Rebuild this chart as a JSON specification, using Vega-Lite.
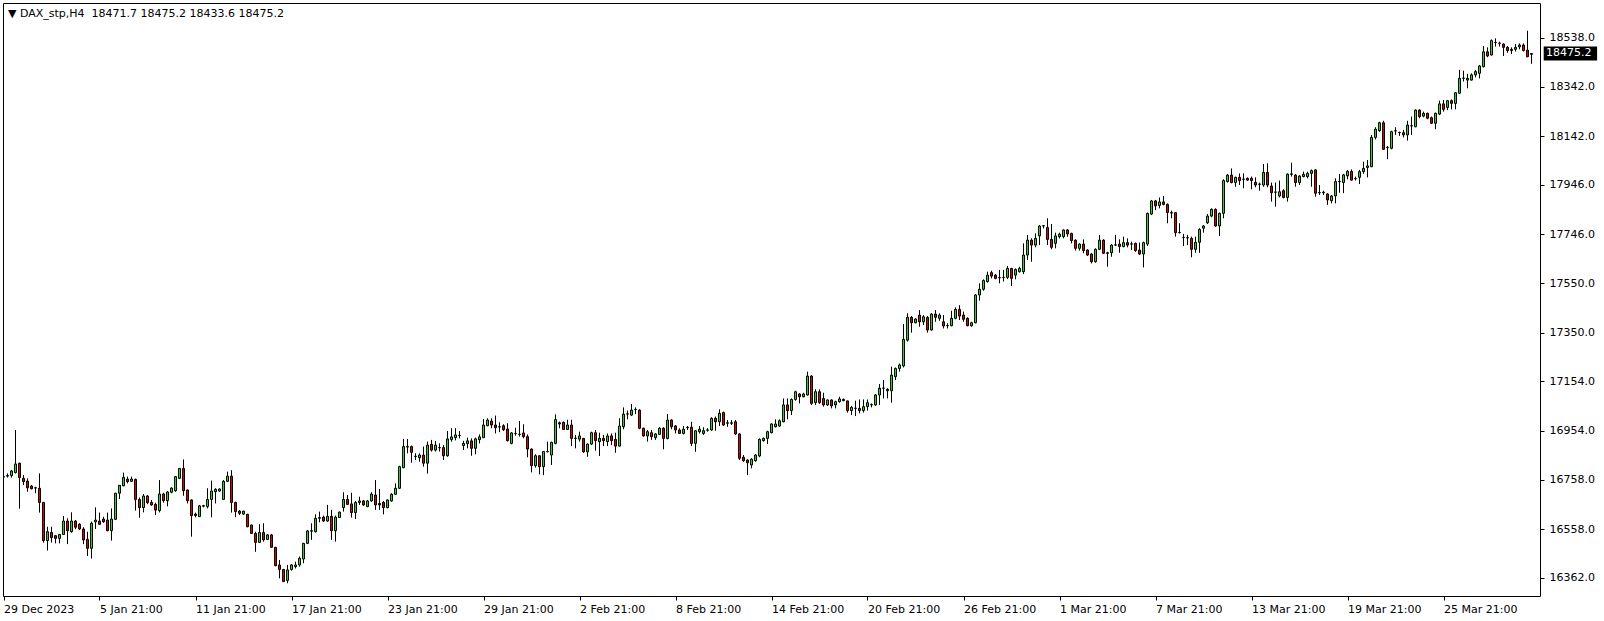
{
"$schema": "https://vega.github.io/schema/vega-lite/v6.json",
"width": 1537, "height": 593,
"autosize": {"type": "none"},
"padding": {"left": 3, "top": 3, "right": 64, "bottom": 25},
"background": "white",
"config": {"view": {"stroke": "black", "strokeWidth": 1}, "font": "DejaVu Sans"},
"title": {"text": "▼ DAX_stp,H4\u00a0\u00a018471.7 18475.2 18433.6 18475.2", "anchor": "start", "frame": "group", "offset": -16, "dy": 9, "fontSize": 11, "fontWeight": "normal", "color": "black", "dx": 5, "baseline": "alphabetic"},
"datasets": {
"bars": [
{"i":0,"o":16768,"h":16783,"l":16756,"c":16770},
{"i":1,"o":16772,"h":16783,"l":16766,"c":16774},
{"i":2,"o":16774,"h":16797,"l":16766,"c":16793},
{"i":3,"o":16786,"h":16958,"l":16783,"c":16821},
{"i":4,"o":16824,"h":16826,"l":16641,"c":16766},
{"i":5,"o":16763,"h":16776,"l":16736,"c":16750},
{"i":6,"o":16752,"h":16763,"l":16709,"c":16725},
{"i":7,"o":16732,"h":16736,"l":16719,"c":16721},
{"i":8,"o":16724,"h":16729,"l":16703,"c":16725},
{"i":9,"o":16723,"h":16783,"l":16625,"c":16666},
{"i":10,"o":16666,"h":16668,"l":16504,"c":16512},
{"i":11,"o":16512,"h":16568,"l":16472,"c":16548},
{"i":12,"o":16545,"h":16568,"l":16504,"c":16524},
{"i":13,"o":16532,"h":16535,"l":16501,"c":16521},
{"i":14,"o":16521,"h":16539,"l":16501,"c":16537},
{"i":15,"o":16537,"h":16611,"l":16535,"c":16591},
{"i":16,"o":16591,"h":16602,"l":16498,"c":16552},
{"i":17,"o":16548,"h":16626,"l":16544,"c":16591},
{"i":18,"o":16591,"h":16595,"l":16558,"c":16566},
{"i":19,"o":16578,"h":16582,"l":16555,"c":16559},
{"i":20,"o":16559,"h":16566,"l":16498,"c":16515},
{"i":21,"o":16517,"h":16548,"l":16450,"c":16481},
{"i":22,"o":16481,"h":16589,"l":16440,"c":16582},
{"i":23,"o":16588,"h":16646,"l":16559,"c":16595},
{"i":24,"o":16591,"h":16625,"l":16575,"c":16578},
{"i":25,"o":16599,"h":16608,"l":16584,"c":16588},
{"i":26,"o":16595,"h":16625,"l":16550,"c":16552},
{"i":27,"o":16552,"h":16642,"l":16512,"c":16599},
{"i":28,"o":16598,"h":16705,"l":16595,"c":16703},
{"i":29,"o":16703,"h":16736,"l":16680,"c":16735},
{"i":30,"o":16733,"h":16786,"l":16731,"c":16767},
{"i":31,"o":16760,"h":16770,"l":16743,"c":16750},
{"i":32,"o":16751,"h":16770,"l":16748,"c":16760},
{"i":33,"o":16759,"h":16762,"l":16633,"c":16678},
{"i":34,"o":16678,"h":16686,"l":16604,"c":16645},
{"i":35,"o":16645,"h":16700,"l":16626,"c":16692},
{"i":36,"o":16692,"h":16695,"l":16659,"c":16665},
{"i":37,"o":16666,"h":16676,"l":16653,"c":16656},
{"i":38,"o":16658,"h":16665,"l":16615,"c":16635},
{"i":39,"o":16633,"h":16756,"l":16626,"c":16700},
{"i":40,"o":16700,"h":16705,"l":16665,"c":16673},
{"i":41,"o":16673,"h":16712,"l":16650,"c":16708},
{"i":42,"o":16707,"h":16727,"l":16703,"c":16724},
{"i":43,"o":16713,"h":16772,"l":16709,"c":16770},
{"i":44,"o":16763,"h":16805,"l":16760,"c":16803},
{"i":45,"o":16803,"h":16839,"l":16693,"c":16713},
{"i":46,"o":16716,"h":16718,"l":16662,"c":16673},
{"i":47,"o":16676,"h":16678,"l":16528,"c":16613},
{"i":48,"o":16619,"h":16625,"l":16606,"c":16613},
{"i":49,"o":16609,"h":16656,"l":16607,"c":16652},
{"i":50,"o":16651,"h":16656,"l":16646,"c":16653},
{"i":51,"o":16649,"h":16723,"l":16642,"c":16678},
{"i":52,"o":16678,"h":16754,"l":16606,"c":16712},
{"i":53,"o":16709,"h":16723,"l":16662,"c":16719},
{"i":54,"o":16712,"h":16723,"l":16709,"c":16720},
{"i":55,"o":16678,"h":16756,"l":16676,"c":16751},
{"i":56,"o":16751,"h":16790,"l":16748,"c":16772},
{"i":57,"o":16772,"h":16796,"l":16625,"c":16666},
{"i":58,"o":16666,"h":16669,"l":16606,"c":16629},
{"i":59,"o":16631,"h":16635,"l":16615,"c":16622},
{"i":60,"o":16619,"h":16632,"l":16617,"c":16631},
{"i":61,"o":16618,"h":16620,"l":16566,"c":16568},
{"i":62,"o":16575,"h":16577,"l":16539,"c":16541},
{"i":63,"o":16541,"h":16548,"l":16467,"c":16505},
{"i":64,"o":16505,"h":16578,"l":16503,"c":16545},
{"i":65,"o":16545,"h":16582,"l":16508,"c":16515},
{"i":66,"o":16517,"h":16539,"l":16514,"c":16535},
{"i":67,"o":16535,"h":16539,"l":16483,"c":16485},
{"i":68,"o":16485,"h":16487,"l":16409,"c":16411},
{"i":69,"o":16414,"h":16434,"l":16360,"c":16396},
{"i":70,"o":16396,"h":16398,"l":16345,"c":16347},
{"i":71,"o":16351,"h":16414,"l":16340,"c":16394},
{"i":72,"o":16396,"h":16418,"l":16391,"c":16414},
{"i":73,"o":16407,"h":16427,"l":16400,"c":16414},
{"i":74,"o":16414,"h":16448,"l":16407,"c":16441},
{"i":75,"o":16438,"h":16503,"l":16421,"c":16501},
{"i":76,"o":16501,"h":16555,"l":16498,"c":16551},
{"i":77,"o":16550,"h":16582,"l":16515,"c":16552},
{"i":78,"o":16548,"h":16618,"l":16545,"c":16602},
{"i":79,"o":16602,"h":16629,"l":16586,"c":16605},
{"i":80,"o":16607,"h":16613,"l":16588,"c":16591},
{"i":81,"o":16591,"h":16656,"l":16588,"c":16610},
{"i":82,"o":16610,"h":16636,"l":16515,"c":16552},
{"i":83,"o":16552,"h":16613,"l":16508,"c":16607},
{"i":84,"o":16605,"h":16629,"l":16603,"c":16627},
{"i":85,"o":16645,"h":16707,"l":16629,"c":16678},
{"i":86,"o":16678,"h":16696,"l":16656,"c":16658},
{"i":87,"o":16660,"h":16705,"l":16605,"c":16625},
{"i":88,"o":16625,"h":16672,"l":16599,"c":16666},
{"i":89,"o":16666,"h":16689,"l":16656,"c":16672},
{"i":90,"o":16672,"h":16676,"l":16652,"c":16656},
{"i":91,"o":16649,"h":16676,"l":16647,"c":16672},
{"i":92,"o":16672,"h":16707,"l":16669,"c":16700},
{"i":93,"o":16696,"h":16756,"l":16636,"c":16656},
{"i":94,"o":16662,"h":16720,"l":16636,"c":16656},
{"i":95,"o":16666,"h":16672,"l":16618,"c":16645},
{"i":96,"o":16645,"h":16678,"l":16642,"c":16676},
{"i":97,"o":16672,"h":16703,"l":16669,"c":16699},
{"i":98,"o":16699,"h":16743,"l":16696,"c":16723},
{"i":99,"o":16723,"h":16814,"l":16720,"c":16810},
{"i":100,"o":16806,"h":16922,"l":16804,"c":16891},
{"i":101,"o":16891,"h":16922,"l":16864,"c":16889},
{"i":102,"o":16891,"h":16895,"l":16826,"c":16868},
{"i":103,"o":16852,"h":16864,"l":16837,"c":16851},
{"i":104,"o":16846,"h":16864,"l":16830,"c":16857},
{"i":105,"o":16857,"h":16891,"l":16810,"c":16824},
{"i":106,"o":16824,"h":16911,"l":16782,"c":16897},
{"i":107,"o":16900,"h":16918,"l":16871,"c":16877},
{"i":108,"o":16877,"h":16914,"l":16871,"c":16897},
{"i":109,"o":16886,"h":16904,"l":16871,"c":16887},
{"i":110,"o":16887,"h":16897,"l":16837,"c":16854},
{"i":111,"o":16854,"h":16954,"l":16850,"c":16922},
{"i":112,"o":16919,"h":16965,"l":16911,"c":16930},
{"i":113,"o":16927,"h":16965,"l":16916,"c":16938},
{"i":114,"o":16936,"h":16954,"l":16924,"c":16935},
{"i":115,"o":16895,"h":16914,"l":16877,"c":16904},
{"i":116,"o":16903,"h":16927,"l":16884,"c":16914},
{"i":117,"o":16914,"h":16924,"l":16854,"c":16884},
{"i":118,"o":16884,"h":16927,"l":16860,"c":16922},
{"i":119,"o":16919,"h":16940,"l":16904,"c":16930},
{"i":120,"o":16927,"h":17002,"l":16925,"c":16978},
{"i":121,"o":16975,"h":17005,"l":16973,"c":16998},
{"i":122,"o":16994,"h":17005,"l":16965,"c":16978},
{"i":123,"o":16978,"h":17016,"l":16944,"c":16967},
{"i":124,"o":16970,"h":16989,"l":16949,"c":16971},
{"i":125,"o":16975,"h":16981,"l":16954,"c":16959},
{"i":126,"o":16962,"h":16985,"l":16911,"c":16915},
{"i":127,"o":16904,"h":16949,"l":16900,"c":16946},
{"i":128,"o":16944,"h":16967,"l":16935,"c":16943},
{"i":129,"o":16941,"h":16994,"l":16931,"c":16940},
{"i":130,"o":16946,"h":16981,"l":16924,"c":16931},
{"i":131,"o":16931,"h":16940,"l":16848,"c":16881},
{"i":132,"o":16881,"h":16884,"l":16787,"c":16814},
{"i":133,"o":16814,"h":16860,"l":16806,"c":16854},
{"i":134,"o":16854,"h":16857,"l":16779,"c":16810},
{"i":135,"o":16810,"h":16873,"l":16776,"c":16871},
{"i":136,"o":16871,"h":16911,"l":16868,"c":16870},
{"i":137,"o":16857,"h":16911,"l":16817,"c":16908},
{"i":138,"o":16904,"h":17021,"l":16900,"c":17000},
{"i":139,"o":16987,"h":16992,"l":16965,"c":16982},
{"i":140,"o":16989,"h":16992,"l":16958,"c":16960},
{"i":141,"o":16960,"h":16999,"l":16958,"c":16978},
{"i":142,"o":16978,"h":16999,"l":16893,"c":16924},
{"i":143,"o":16924,"h":16938,"l":16884,"c":16925},
{"i":144,"o":16921,"h":16951,"l":16911,"c":16934},
{"i":145,"o":16924,"h":16926,"l":16866,"c":16870},
{"i":146,"o":16870,"h":16904,"l":16850,"c":16901},
{"i":147,"o":16901,"h":16951,"l":16897,"c":16947},
{"i":148,"o":16947,"h":16958,"l":16874,"c":16915},
{"i":149,"o":16911,"h":16947,"l":16853,"c":16924},
{"i":150,"o":16924,"h":16938,"l":16893,"c":16915},
{"i":151,"o":16911,"h":16944,"l":16893,"c":16934},
{"i":152,"o":16934,"h":16944,"l":16897,"c":16915},
{"i":153,"o":16920,"h":16947,"l":16866,"c":16893},
{"i":154,"o":16893,"h":17005,"l":16891,"c":16974},
{"i":155,"o":16971,"h":17049,"l":16961,"c":17022},
{"i":156,"o":17022,"h":17036,"l":17001,"c":17023},
{"i":157,"o":17018,"h":17063,"l":17014,"c":17038},
{"i":158,"o":17040,"h":17049,"l":17022,"c":17041},
{"i":159,"o":17038,"h":17041,"l":16961,"c":16965},
{"i":160,"o":16965,"h":16967,"l":16931,"c":16934},
{"i":161,"o":16934,"h":16958,"l":16911,"c":16951},
{"i":162,"o":16947,"h":16958,"l":16918,"c":16931},
{"i":163,"o":16927,"h":16944,"l":16918,"c":16942},
{"i":164,"o":16940,"h":16969,"l":16938,"c":16965},
{"i":165,"o":16965,"h":16969,"l":16880,"c":16924},
{"i":166,"o":16924,"h":17022,"l":16920,"c":16998},
{"i":167,"o":16998,"h":17001,"l":16961,"c":16971},
{"i":168,"o":16974,"h":16978,"l":16944,"c":16958},
{"i":169,"o":16958,"h":16965,"l":16942,"c":16944},
{"i":170,"o":16944,"h":16974,"l":16940,"c":16961},
{"i":171,"o":16967,"h":16974,"l":16958,"c":16969},
{"i":172,"o":16969,"h":16991,"l":16893,"c":16904},
{"i":173,"o":16904,"h":16958,"l":16870,"c":16955},
{"i":174,"o":16951,"h":16974,"l":16944,"c":16961},
{"i":175,"o":16944,"h":16969,"l":16938,"c":16955},
{"i":176,"o":16957,"h":16965,"l":16951,"c":16958},
{"i":177,"o":16958,"h":17009,"l":16955,"c":17005},
{"i":178,"o":17005,"h":17012,"l":16955,"c":16991},
{"i":179,"o":16991,"h":17041,"l":16974,"c":17025},
{"i":180,"o":17028,"h":17032,"l":16974,"c":16978},
{"i":181,"o":16985,"h":16998,"l":16971,"c":16987},
{"i":182,"o":16985,"h":16998,"l":16978,"c":16987},
{"i":183,"o":16991,"h":16998,"l":16938,"c":16942},
{"i":184,"o":16942,"h":16944,"l":16837,"c":16844},
{"i":185,"o":16848,"h":16857,"l":16830,"c":16834},
{"i":186,"o":16837,"h":16840,"l":16776,"c":16826},
{"i":187,"o":16817,"h":16844,"l":16803,"c":16840},
{"i":188,"o":16834,"h":16861,"l":16830,"c":16857},
{"i":189,"o":16853,"h":16924,"l":16848,"c":16920},
{"i":190,"o":16915,"h":16928,"l":16911,"c":16924},
{"i":191,"o":16924,"h":16955,"l":16901,"c":16951},
{"i":192,"o":16947,"h":16985,"l":16944,"c":16982},
{"i":193,"o":16971,"h":17001,"l":16968,"c":16982},
{"i":194,"o":16974,"h":17001,"l":16971,"c":16995},
{"i":195,"o":16991,"h":17085,"l":16989,"c":17059},
{"i":196,"o":17059,"h":17085,"l":17001,"c":17036},
{"i":197,"o":17036,"h":17085,"l":17018,"c":17081},
{"i":198,"o":17081,"h":17116,"l":17076,"c":17112},
{"i":199,"o":17103,"h":17106,"l":17065,"c":17092},
{"i":200,"o":17092,"h":17108,"l":17089,"c":17103},
{"i":201,"o":17099,"h":17193,"l":17097,"c":17175},
{"i":202,"o":17175,"h":17179,"l":17059,"c":17065},
{"i":203,"o":17068,"h":17122,"l":17059,"c":17112},
{"i":204,"o":17112,"h":17122,"l":17063,"c":17068},
{"i":205,"o":17085,"h":17108,"l":17052,"c":17059},
{"i":206,"o":17059,"h":17081,"l":17055,"c":17079},
{"i":207,"o":17079,"h":17081,"l":17045,"c":17055},
{"i":208,"o":17059,"h":17076,"l":17045,"c":17072},
{"i":209,"o":17072,"h":17092,"l":17068,"c":17083},
{"i":210,"o":17081,"h":17085,"l":17074,"c":17076},
{"i":211,"o":17075,"h":17076,"l":17028,"c":17036},
{"i":212,"o":17036,"h":17055,"l":17018,"c":17049},
{"i":213,"o":17045,"h":17076,"l":17014,"c":17046},
{"i":214,"o":17045,"h":17081,"l":17025,"c":17036},
{"i":215,"o":17036,"h":17081,"l":17028,"c":17052},
{"i":216,"o":17052,"h":17081,"l":17036,"c":17068},
{"i":217,"o":17059,"h":17065,"l":17049,"c":17060},
{"i":218,"o":17059,"h":17103,"l":17055,"c":17099},
{"i":219,"o":17099,"h":17143,"l":17059,"c":17126},
{"i":220,"o":17126,"h":17159,"l":17085,"c":17127},
{"i":221,"o":17122,"h":17126,"l":17085,"c":17116},
{"i":222,"o":17116,"h":17213,"l":17068,"c":17179},
{"i":223,"o":17173,"h":17210,"l":17159,"c":17206},
{"i":224,"o":17206,"h":17226,"l":17193,"c":17220},
{"i":225,"o":17216,"h":17385,"l":17210,"c":17323},
{"i":226,"o":17320,"h":17428,"l":17314,"c":17412},
{"i":227,"o":17412,"h":17417,"l":17350,"c":17390},
{"i":228,"o":17390,"h":17408,"l":17388,"c":17405},
{"i":229,"o":17421,"h":17441,"l":17374,"c":17394},
{"i":230,"o":17394,"h":17421,"l":17381,"c":17414},
{"i":231,"o":17412,"h":17417,"l":17350,"c":17361},
{"i":232,"o":17361,"h":17428,"l":17358,"c":17425},
{"i":233,"o":17425,"h":17441,"l":17394,"c":17412},
{"i":234,"o":17408,"h":17428,"l":17398,"c":17421},
{"i":235,"o":17394,"h":17421,"l":17367,"c":17377},
{"i":236,"o":17378,"h":17388,"l":17367,"c":17379},
{"i":237,"o":17378,"h":17438,"l":17376,"c":17408},
{"i":238,"o":17408,"h":17452,"l":17404,"c":17444},
{"i":239,"o":17444,"h":17461,"l":17401,"c":17417},
{"i":240,"o":17421,"h":17435,"l":17394,"c":17404},
{"i":241,"o":17408,"h":17412,"l":17376,"c":17378},
{"i":242,"o":17378,"h":17394,"l":17374,"c":17390},
{"i":243,"o":17390,"h":17506,"l":17388,"c":17502},
{"i":244,"o":17502,"h":17549,"l":17479,"c":17525},
{"i":245,"o":17525,"h":17565,"l":17519,"c":17560},
{"i":246,"o":17556,"h":17596,"l":17552,"c":17582},
{"i":247,"o":17592,"h":17600,"l":17569,"c":17578},
{"i":248,"o":17582,"h":17586,"l":17565,"c":17569},
{"i":249,"o":17572,"h":17603,"l":17549,"c":17571},
{"i":250,"o":17572,"h":17603,"l":17556,"c":17573},
{"i":251,"o":17573,"h":17619,"l":17566,"c":17609},
{"i":252,"o":17609,"h":17611,"l":17538,"c":17569},
{"i":253,"o":17582,"h":17609,"l":17565,"c":17605},
{"i":254,"o":17596,"h":17616,"l":17592,"c":17609},
{"i":255,"o":17596,"h":17710,"l":17586,"c":17663},
{"i":256,"o":17663,"h":17744,"l":17643,"c":17723},
{"i":257,"o":17723,"h":17730,"l":17636,"c":17703},
{"i":258,"o":17703,"h":17750,"l":17694,"c":17730},
{"i":259,"o":17740,"h":17784,"l":17703,"c":17780},
{"i":260,"o":17780,"h":17784,"l":17770,"c":17781},
{"i":261,"o":17774,"h":17811,"l":17703,"c":17726},
{"i":262,"o":17726,"h":17788,"l":17686,"c":17694},
{"i":263,"o":17710,"h":17753,"l":17690,"c":17740},
{"i":264,"o":17737,"h":17753,"l":17730,"c":17747},
{"i":265,"o":17737,"h":17766,"l":17730,"c":17764},
{"i":266,"o":17764,"h":17767,"l":17737,"c":17748},
{"i":267,"o":17750,"h":17753,"l":17710,"c":17721},
{"i":268,"o":17723,"h":17726,"l":17681,"c":17690},
{"i":269,"o":17690,"h":17710,"l":17681,"c":17707},
{"i":270,"o":17707,"h":17726,"l":17670,"c":17681},
{"i":271,"o":17683,"h":17686,"l":17659,"c":17663},
{"i":272,"o":17667,"h":17670,"l":17629,"c":17636},
{"i":273,"o":17636,"h":17690,"l":17632,"c":17686},
{"i":274,"o":17686,"h":17744,"l":17683,"c":17723},
{"i":275,"o":17723,"h":17726,"l":17667,"c":17670},
{"i":276,"o":17672,"h":17676,"l":17616,"c":17670},
{"i":277,"o":17672,"h":17707,"l":17656,"c":17703},
{"i":278,"o":17703,"h":17744,"l":17699,"c":17704},
{"i":279,"o":17707,"h":17726,"l":17672,"c":17697},
{"i":280,"o":17697,"h":17737,"l":17694,"c":17713},
{"i":281,"o":17713,"h":17730,"l":17694,"c":17703},
{"i":282,"o":17707,"h":17717,"l":17683,"c":17708},
{"i":283,"o":17710,"h":17713,"l":17676,"c":17681},
{"i":284,"o":17683,"h":17713,"l":17663,"c":17667},
{"i":285,"o":17667,"h":17717,"l":17613,"c":17713},
{"i":286,"o":17707,"h":17834,"l":17699,"c":17831},
{"i":287,"o":17828,"h":17885,"l":17824,"c":17881},
{"i":288,"o":17881,"h":17885,"l":17844,"c":17861},
{"i":289,"o":17863,"h":17895,"l":17851,"c":17877},
{"i":290,"o":17877,"h":17901,"l":17863,"c":17867},
{"i":291,"o":17867,"h":17871,"l":17791,"c":17834},
{"i":292,"o":17834,"h":17842,"l":17811,"c":17832},
{"i":293,"o":17834,"h":17836,"l":17737,"c":17753},
{"i":294,"o":17753,"h":17791,"l":17750,"c":17754},
{"i":295,"o":17733,"h":17748,"l":17699,"c":17734},
{"i":296,"o":17733,"h":17744,"l":17703,"c":17732},
{"i":297,"o":17730,"h":17737,"l":17654,"c":17686},
{"i":298,"o":17686,"h":17737,"l":17672,"c":17714},
{"i":299,"o":17714,"h":17771,"l":17672,"c":17766},
{"i":300,"o":17771,"h":17784,"l":17753,"c":17780},
{"i":301,"o":17793,"h":17828,"l":17788,"c":17820},
{"i":302,"o":17820,"h":17851,"l":17815,"c":17847},
{"i":303,"o":17847,"h":17851,"l":17777,"c":17780},
{"i":304,"o":17780,"h":17834,"l":17740,"c":17831},
{"i":305,"o":17831,"h":17968,"l":17811,"c":17963},
{"i":306,"o":17959,"h":17989,"l":17955,"c":17985},
{"i":307,"o":17985,"h":18012,"l":17952,"c":17955},
{"i":308,"o":17955,"h":17979,"l":17938,"c":17976},
{"i":309,"o":17976,"h":17992,"l":17945,"c":17963},
{"i":310,"o":17968,"h":17992,"l":17932,"c":17969},
{"i":311,"o":17972,"h":17976,"l":17962,"c":17965},
{"i":312,"o":17972,"h":17979,"l":17928,"c":17963},
{"i":313,"o":17956,"h":17976,"l":17936,"c":17945},
{"i":314,"o":17949,"h":17955,"l":17922,"c":17948},
{"i":315,"o":17945,"h":18030,"l":17938,"c":17996},
{"i":316,"o":17996,"h":18033,"l":17936,"c":17945},
{"i":317,"o":17941,"h":17955,"l":17878,"c":17914},
{"i":318,"o":17916,"h":17955,"l":17858,"c":17917},
{"i":319,"o":17901,"h":17963,"l":17895,"c":17918},
{"i":320,"o":17922,"h":17928,"l":17891,"c":17895},
{"i":321,"o":17895,"h":17992,"l":17878,"c":17989},
{"i":322,"o":17988,"h":18035,"l":17979,"c":17990},
{"i":323,"o":17985,"h":17989,"l":17938,"c":17955},
{"i":324,"o":17955,"h":17985,"l":17945,"c":17981},
{"i":325,"o":17979,"h":17999,"l":17976,"c":17988},
{"i":326,"o":17979,"h":17999,"l":17972,"c":17992},
{"i":327,"o":17992,"h":18008,"l":17938,"c":18003},
{"i":328,"o":18006,"h":18008,"l":17898,"c":17912},
{"i":329,"o":17914,"h":17945,"l":17905,"c":17915},
{"i":330,"o":17914,"h":17922,"l":17905,"c":17916},
{"i":331,"o":17909,"h":17912,"l":17865,"c":17885},
{"i":332,"o":17882,"h":17905,"l":17871,"c":17901},
{"i":333,"o":17901,"h":17972,"l":17871,"c":17959},
{"i":334,"o":17958,"h":17990,"l":17914,"c":17960},
{"i":335,"o":17955,"h":17990,"l":17912,"c":17986},
{"i":336,"o":17982,"h":18006,"l":17968,"c":18000},
{"i":337,"o":18000,"h":18008,"l":17963,"c":17965},
{"i":338,"o":17970,"h":17979,"l":17963,"c":17971},
{"i":339,"o":17976,"h":18006,"l":17949,"c":17999},
{"i":340,"o":17999,"h":18039,"l":17990,"c":18012},
{"i":341,"o":18016,"h":18046,"l":17976,"c":18022},
{"i":342,"o":18019,"h":18147,"l":18017,"c":18137},
{"i":343,"o":18137,"h":18178,"l":18129,"c":18170},
{"i":344,"o":18164,"h":18200,"l":18160,"c":18196},
{"i":345,"o":18196,"h":18204,"l":18086,"c":18089},
{"i":346,"o":18096,"h":18102,"l":18049,"c":18097},
{"i":347,"o":18093,"h":18164,"l":18089,"c":18160},
{"i":348,"o":18163,"h":18178,"l":18147,"c":18164},
{"i":349,"o":18156,"h":18160,"l":18143,"c":18157},
{"i":350,"o":18156,"h":18167,"l":18137,"c":18147},
{"i":351,"o":18147,"h":18204,"l":18124,"c":18187},
{"i":352,"o":18183,"h":18221,"l":18147,"c":18184},
{"i":353,"o":18180,"h":18250,"l":18178,"c":18247},
{"i":354,"o":18247,"h":18250,"l":18214,"c":18221},
{"i":355,"o":18223,"h":18241,"l":18218,"c":18234},
{"i":356,"o":18234,"h":18237,"l":18210,"c":18214},
{"i":357,"o":18216,"h":18221,"l":18191,"c":18194},
{"i":358,"o":18194,"h":18237,"l":18170,"c":18234},
{"i":359,"o":18231,"h":18285,"l":18227,"c":18272},
{"i":360,"o":18272,"h":18288,"l":18241,"c":18250},
{"i":361,"o":18258,"h":18288,"l":18247,"c":18285},
{"i":362,"o":18285,"h":18290,"l":18250,"c":18274},
{"i":363,"o":18274,"h":18319,"l":18250,"c":18317},
{"i":364,"o":18315,"h":18409,"l":18312,"c":18375},
{"i":365,"o":18375,"h":18406,"l":18362,"c":18376},
{"i":366,"o":18368,"h":18393,"l":18335,"c":18375},
{"i":367,"o":18368,"h":18395,"l":18366,"c":18389},
{"i":368,"o":18389,"h":18409,"l":18379,"c":18402},
{"i":369,"o":18395,"h":18429,"l":18375,"c":18425},
{"i":370,"o":18422,"h":18505,"l":18419,"c":18482},
{"i":371,"o":18482,"h":18500,"l":18460,"c":18465},
{"i":372,"o":18469,"h":18532,"l":18467,"c":18527},
{"i":373,"o":18519,"h":18536,"l":18503,"c":18520},
{"i":374,"o":18516,"h":18523,"l":18503,"c":18517},
{"i":375,"o":18513,"h":18516,"l":18465,"c":18500},
{"i":376,"o":18500,"h":18505,"l":18478,"c":18487},
{"i":377,"o":18487,"h":18500,"l":18473,"c":18492},
{"i":378,"o":18492,"h":18513,"l":18483,"c":18500},
{"i":379,"o":18502,"h":18516,"l":18492,"c":18509},
{"i":380,"o":18509,"h":18516,"l":18483,"c":18487},
{"i":381,"o":18489,"h":18567,"l":18460,"c":18462},
{"i":382,"o":18471.7,"h":18475.2,"l":18433.6,"c":18475.2}
],
"last": [{"price": 18475.2, "label": "18475.2"}]
},
"layer": [
{
"data": {"name": "bars"},
"mark": {"type": "rule", "color": "black", "strokeWidth": 1, "clip": true},
"encoding": {
"x": {"field": "i", "type": "quantitative", "scale": {"domain": [-0.125, 384.125], "nice": false, "zero": false, "padding": 0},
"axis": {"orient": "bottom", "values": [0,24,48,72,96,120,144,168,192,216,240,264,288,312,336,360], "labelExpr": "['29 Dec 2023','5 Jan 21:00','11 Jan 21:00','17 Jan 21:00','23 Jan 21:00','29 Jan 21:00','2 Feb 21:00','8 Feb 21:00','14 Feb 21:00','20 Feb 21:00','26 Feb 21:00','1 Mar 21:00','7 Mar 21:00','13 Mar 21:00','19 Mar 21:00','25 Mar 21:00'][round(datum.value/24)]", "labelAlign": "left", "labelBaseline": "top", "labelPadding": 3, "labelFontSize": 11, "labelColor": "black", "labelFont": "DejaVu Sans", "labelOverlap": false, "labelFlush": false, "tickSize": 4, "tickColor": "black", "domain": false, "grid": false, "title": null}},
"y": {"field": "l", "type": "quantitative", "scale": {"domain": [16288.9, 18678.6], "nice": false, "zero": false, "padding": 0},
"axis": {"orient": "right", "values": [16362,16558,16758,16954,17154,17350,17550,17746,17946,18142,18342,18538], "format": ".1f", "labelFontSize": 11, "labelColor": "black", "labelFont": "DejaVu Sans", "labelPadding": 5, "tickSize": 4, "tickColor": "black", "domain": false, "grid": false, "title": null}},
"y2": {"field": "h"}
}
},
{
"data": {"name": "bars"},
"mark": {"type": "bar", "size": 2, "stroke": "black", "strokeWidth": 1, "clip": true},
"encoding": {
"x": {"field": "i", "type": "quantitative"},
"y": {"field": "o", "type": "quantitative"},
"y2": {"field": "c"},
"fill": {"condition": {"test": "datum.c >= datum.o", "value": "#00ee00"}, "value": "#dd0000"}
}
},
{
"data": {"name": "last"},
"mark": {"type": "bar", "orient": "horizontal", "size": 14, "color": "black"},
"encoding": {
"x": {"datum": 385.05},
"x2": {"datum": 398.4},
"y": {"field": "price", "type": "quantitative"}
}
},
{
"data": {"name": "last"},
"mark": {"type": "text", "align": "left", "baseline": "middle", "color": "white", "fontSize": 11, "font": "DejaVu Sans"},
"encoding": {
"x": {"datum": 385.6},
"y": {"field": "price", "type": "quantitative"},
"text": {"field": "label"}
}
}
]
}
